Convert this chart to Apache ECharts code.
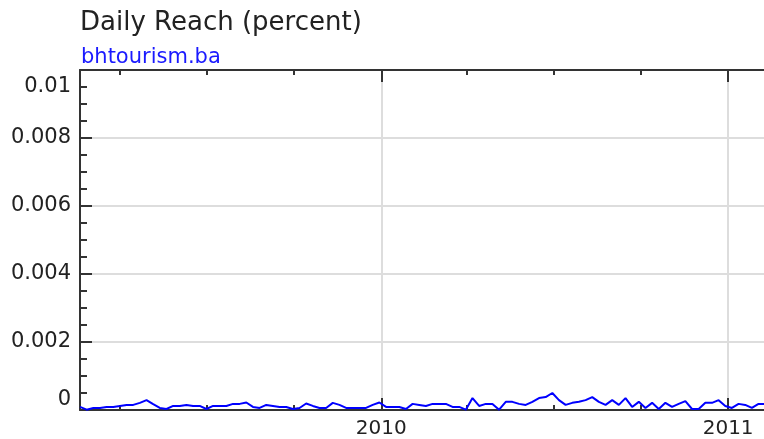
<!DOCTYPE html>
<html>
<head>
<meta charset="utf-8">
<script src="https://cdn.jsdelivr.net/npm/echarts@6/dist/echarts.min.js"></script>
<style>
  html, body { margin: 0; padding: 0; background: #fff; }
  #main { width: 764px; height: 439px; }
</style>
</head>
<body>
<div id="main"></div>
<script>
// weekly readings, first week starts 2009-02-18
const firstWeek = [2009, 1, 18];
const reach = [
  0.00009, 0.00001, 0.00006, 0.00006, 0.00009, 0.00009, 0.00012, 0.00015, 0.00015, 0.00021,
  0.00029, 0.00017, 0.00006, 0.00003, 0.00012, 0.00012, 0.00015, 0.00012, 0.00012, 0.00003,
  0.00012, 0.00012, 0.00012, 0.00018, 0.00018, 0.00022, 0.00009, 0.00006, 0.00015, 0.00012,
  0.00009, 0.00009, 0.00003, 0.00006, 0.00019, 0.00012, 0.00006, 0.00006, 0.00021, 0.00015,
  0.00006, 0.00006, 0.00006, 0.00006, 0.00015, 0.00022, 0.00009, 0.00009, 0.00009, 0.00003,
  0.00018, 0.00015, 0.00012, 0.00018, 0.00018, 0.00018, 0.00009, 0.00009, 0.00001, 0.00035,
  0.00012, 0.00018, 0.00018, 0.00001, 0.00024, 0.00024, 0.00018, 0.00015, 0.00024, 0.00035,
  0.00038, 0.0005, 0.00029, 0.00015, 0.00021, 0.00024, 0.00029, 0.00038, 0.00024, 0.00015,
  0.00029, 0.00015, 0.00035, 0.00009, 0.00024, 0.00006, 0.00021, 0.00003, 0.00021, 0.00009,
  0.00018, 0.00026, 0.00003, 0.00003, 0.00021, 0.00021, 0.00029, 0.00012, 0.00006, 0.00018,
  0.00015, 0.00006, 0.00018, 0.00018
];
const yTicks = [0, 0.002, 0.004, 0.006, 0.008, 0.01];

const points = [];
for (let i = 0; i < reach.length; i++) {
  const d = new Date(firstWeek[0], firstWeek[1], firstWeek[2] + i * 7);
  points.push([d.getTime(), reach[i]]);
}

const xMin = new Date(2009, 1, 18).getTime();
const xMax = new Date(2011, 1, 13).getTime();
const DAY = 86400000;
const font = 'DejaVu Sans';
const dark = '#333';

function yearOnly(v) {
  const d = new Date(v);
  return (d.getMonth() === 0 && d.getDate() === 1) ? String(d.getFullYear()) : '';
}

// quarter axes: short ticks only; year axes: long ticks, labels, grid
function xAxisDef(pos, yearly, showLine, showLabel) {
  return {
    type: 'time',
    position: pos,
    min: xMin,
    max: xMax,
    minInterval: yearly ? 365 * DAY : 90 * DAY,
    maxInterval: yearly ? 366 * DAY : 92 * DAY,
    axisLine: { show: showLine, lineStyle: { color: dark, width: 2 } },
    axisTick: { show: true, inside: true, length: yearly ? 12 : 5, lineStyle: { color: dark, width: 2 } },
    axisLabel: {
      show: showLabel,
      formatter: yearOnly,
      color: '#222',
      fontFamily: font,
      fontSize: 20,
      margin: 9,
      showMinLabel: true,
      showMaxLabel: true,
      hideOverlap: false
    },
    splitLine: { show: yearly && pos === 'bottom', lineStyle: { color: '#ddd', width: 2 } }
  };
}

function yLabel(v) {
  if (v === yTicks[yTicks.length - 1]) return '{top|' + v + '}';
  return String(v);
}

const chart = echarts.init(document.getElementById('main'));
chart.setOption({
  animation: false,
  backgroundColor: '#fff',
  title: [
    { text: 'Daily Reach (percent)', left: 75, top: 5,
      textStyle: { fontFamily: font, fontSize: 26, fontWeight: 'normal', color: '#222' } },
    { text: 'bhtourism.ba', left: 76, top: 42,
      textStyle: { fontFamily: font, fontSize: 21, fontWeight: 'normal', color: '#1a1aff' } }
  ],
  grid: { left: 80, top: 70, width: 689, bottom: 29, containLabel: false, outerBoundsMode: 'none' },
  xAxis: [
    xAxisDef('bottom', true, true, true),
    xAxisDef('bottom', false, false, false),
    xAxisDef('top', true, true, false),
    xAxisDef('top', false, false, false)
  ],
  yAxis: [{
    type: 'value',
    min: 0,
    max: yTicks[yTicks.length - 1],
    interval: yTicks[1] - yTicks[0],
    axisLine: { show: true, lineStyle: { color: dark, width: 2 } },
    axisTick: { show: true, inside: true, length: 12, lineStyle: { color: dark, width: 2 } },
    minorTick: { show: true, splitNumber: 4, length: 7, lineStyle: { color: dark, width: 2 } },
    axisLabel: {
      color: '#222',
      fontFamily: font,
      fontSize: 21,
      margin: 9,
      formatter: yLabel,
      verticalAlignMinLabel: 'bottom',
      verticalAlignMaxLabel: 'top',
      rich: { top: { fontFamily: font, fontSize: 21, color: '#222', padding: [6, 0, 0, 0] } }
    },
    splitLine: { show: true, lineStyle: { color: '#ddd', width: 2 } }
  }],
  series: [{
    type: 'line',
    xAxisIndex: 0,
    yAxisIndex: 0,
    data: points,
    showSymbol: false,
    lineStyle: { color: '#0000ff', width: 2 },
    itemStyle: { color: '#0000ff' },
    z: 5
  }]
});
</script>
</body>
</html>
